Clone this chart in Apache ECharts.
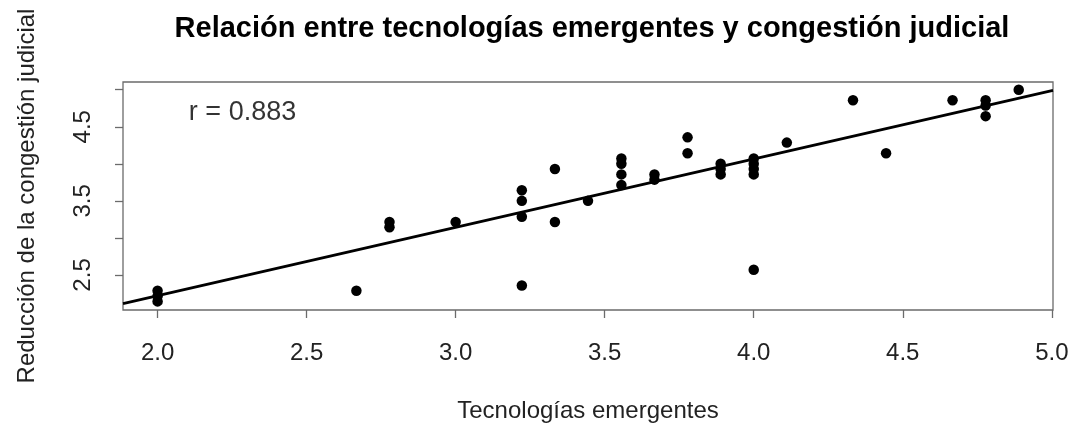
<!DOCTYPE html>
<html lang="es">
<head>
<meta charset="utf-8">
<title>Tecnologías emergentes y congestión judicial</title>
<script src="https://cdn.jsdelivr.net/npm/echarts@6/dist/echarts.min.js"></script>
<style>
  html, body { margin: 0; padding: 0; background: #fff; }
  #chart { width: 1071px; height: 426px; }
</style>
</head>
<body>
<div id="chart"></div>
<script>
// puntajes medios por encuestado (x: tecnologías, y: reducción de congestión)
var tecnologias = [
    2.000, 2.000, 2.000,
    2.667,
    2.778, 2.778,
    3.000,
    3.222, 3.222, 3.222, 3.222,
    3.333, 3.333,
    3.444,
    3.556, 3.556, 3.556, 3.556,
    3.667, 3.667,
    3.778, 3.778,
    3.889, 3.889, 3.889,
    4.000, 4.000, 4.000, 4.000, 4.000,
    4.111,
    4.333,
    4.444,
    4.667,
    4.778, 4.778, 4.778,
    4.889
];
var congestion = [
    2.286, 2.214, 2.143,
    2.286,
    3.214, 3.143,
    3.214,
    3.643, 3.500, 3.286, 2.357,
    3.929, 3.214,
    3.500,
    4.071, 4.000, 3.857, 3.714,
    3.857, 3.786,
    4.357, 4.143,
    4.000, 3.929, 3.857,
    4.071, 4.000, 3.929, 3.857, 2.571,
    4.286,
    4.857,
    4.143,
    4.857,
    4.857, 4.786, 4.643,
    5.000
];
var xTicks = [2.0, 2.5, 3.0, 3.5, 4.0, 4.5, 5.0];
var yTicks = [2.5, 3.0, 3.5, 4.0, 4.5, 5.0];
var yLabels = [2.5, 3.5, 4.5];
var rTexto = 'r = 0.883';

// rango de ejes como en R (4% extra)
var xMin = 1.884, xMax = 5.004;
var yMin = 2.027, yMax = 5.104;

// recta de mínimos cuadrados
function ajuste(xs, ys) {
    var n = xs.length, mx = 0, my = 0, sxy = 0, sxx = 0;
    for (var i = 0; i < n; i++) { mx += xs[i]; my += ys[i]; }
    mx /= n; my /= n;
    for (var j = 0; j < n; j++) {
        sxy += (xs[j] - mx) * (ys[j] - my);
        sxx += (xs[j] - mx) * (xs[j] - mx);
    }
    var b = sxy / sxx;
    return { a: my - b * mx, b: b };
}
var fit = ajuste(tecnologias, congestion);

var puntos = tecnologias.map(function (x, i) { return [x, congestion[i]]; });
var recta = [[xMin, fit.a + fit.b * xMin], [xMax, fit.a + fit.b * xMax]];

var fuente = '"Liberation Sans", Arial, sans-serif';
var gris = '#6b6b6b';

var myChart = echarts.init(document.getElementById('chart'));
myChart.setOption({
    animation: false,
    backgroundColor: '#fff',
    textStyle: { fontFamily: fuente },
    title: {
        text: 'Relación entre tecnologías emergentes y congestión judicial',
        left: 587,
        top: 9,
        textAlign: 'center',
        textStyle: { fontSize: 29, fontWeight: 'bold', color: '#000', fontFamily: fuente }
    },
    grid: {
        left: 123, right: 18, top: 82, bottom: 116,
        outerBoundsMode: 'none',
        show: true, borderColor: gris, borderWidth: 1.3, backgroundColor: '#fff'
    },
    xAxis: {
        type: 'value',
        min: xMin, max: xMax,
        name: 'Tecnologías emergentes',
        nameLocation: 'middle',
        nameGap: 89,
        nameTextStyle: { fontSize: 24, color: '#222', fontFamily: fuente },
        splitLine: { show: false },
        axisLine: { show: false },
        axisTick: { show: true, length: 8, inside: false, customValues: xTicks, lineStyle: { color: gris, width: 1.3 } },
        axisLabel: { customValues: xTicks, fontSize: 24, color: '#222', margin: 31,
            formatter: function (v) { return v.toFixed(1); } }
    },
    yAxis: {
        type: 'value',
        min: yMin, max: yMax,
        name: 'Reducción de la congestión judicial',
        nameLocation: 'middle',
        nameGap: 84,
        nameRotate: 90,
        nameTextStyle: { fontSize: 24, color: '#222', fontFamily: fuente },
        splitLine: { show: false },
        axisLine: { show: false },
        axisTick: { show: true, length: 8, inside: false, customValues: yTicks, lineStyle: { color: gris, width: 1.3 } },
        axisLabel: { customValues: yLabels, fontSize: 24, color: '#222', margin: 28, rotate: 90,
            formatter: function (v) { return v.toFixed(1); } }
    },
    series: [
        {
            name: 'recta',
            type: 'line',
            data: recta,
            symbol: 'none',
            clip: true,
            lineStyle: { color: '#000', width: 2.8 },
            z: 2
        },
        {
            name: 'puntos',
            type: 'scatter',
            data: puntos,
            symbol: 'circle',
            symbolSize: 10.5,
            itemStyle: { color: '#000', opacity: 1 },
            z: 3
        },
        {
            name: 'r',
            type: 'scatter',
            data: [[2.285, 4.69]],
            symbolSize: 0,
            silent: true,
            label: {
                show: true,
                position: 'inside',
                formatter: rTexto,
                fontSize: 27,
                color: '#000',
                fontFamily: fuente
            }
        }
    ]
});
</script>
</body>
</html>
